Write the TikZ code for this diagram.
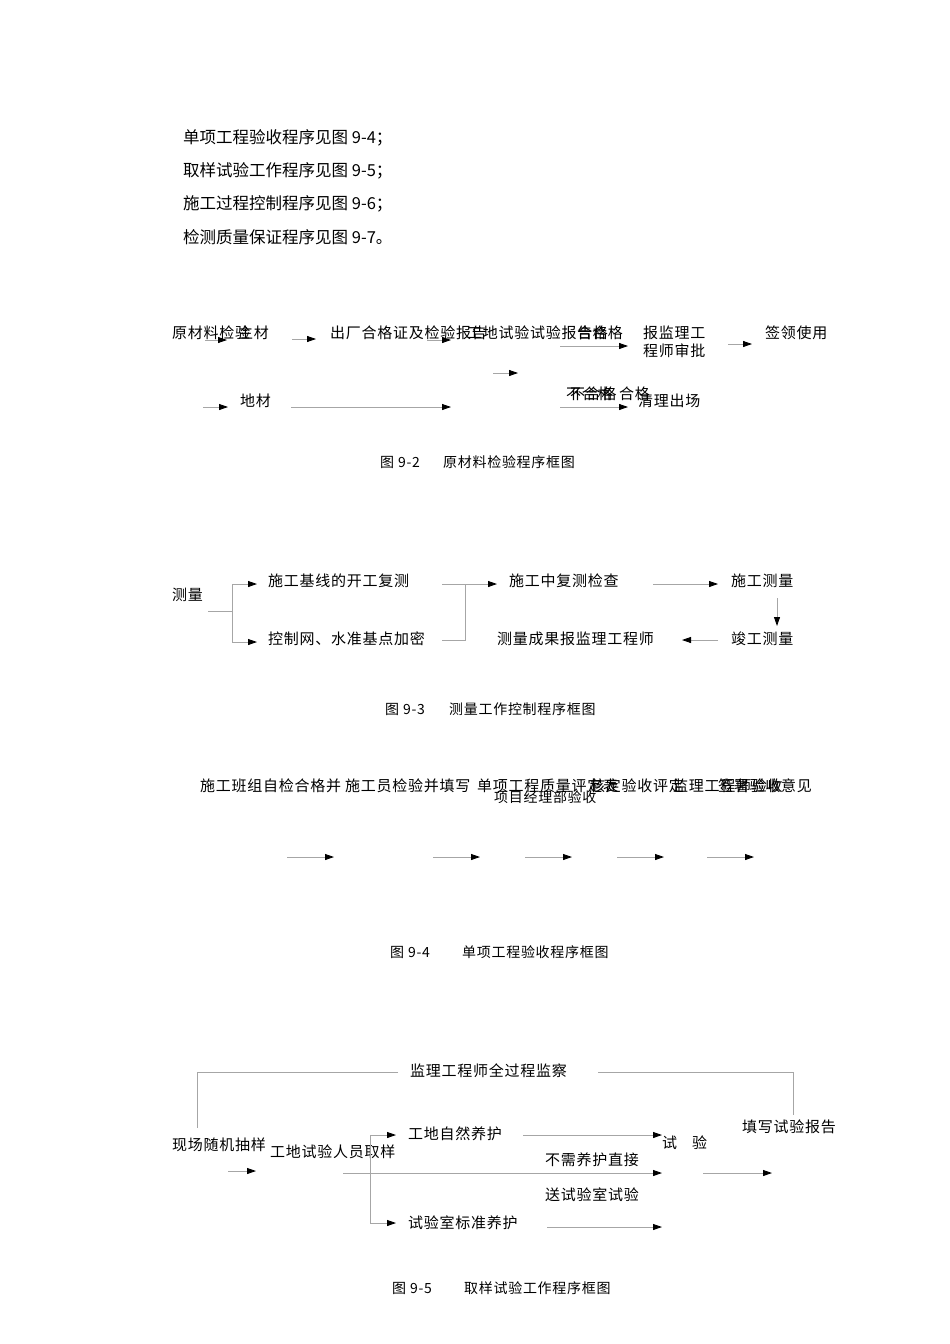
\documentclass[tikz,border=0pt]{standalone}
\usepackage{fontspec}
\newfontfamily\cjk[LetterSpace=5]{Noto Sans CJK SC}
\newfontfamily\cjkbody{Noto Sans CJK SC}
\usetikzlibrary{arrows.meta}

\begin{document}
\begin{tikzpicture}[x=1pt,y=-1pt,
    txt/.style={anchor=west, inner sep=0pt, font=\cjk\fontsize{15}{15}\selectfont},
    sub/.style={anchor=west, inner sep=0pt, font=\cjk\fontsize{14}{14}\selectfont},
    figcap/.style={anchor=west, inner sep=0pt, font=\cjk\fontsize{14}{14}\selectfont},
    body/.style={anchor=west, inner sep=0pt, font=\cjkbody\fontsize{16.5}{16.5}\selectfont},
    line/.style={draw=black!35, line width=0.8pt},
    arr/.style={line, -{Triangle[length=9pt, width=6pt, black]}}]
    \useasboundingbox[fill=white] (0,0) rectangle (950,1344);

    % Opening lines
    \node[body] (l94) at (183,138) {单项工程验收程序见图 9-4；};
    \node[body] (l95) at (183,171) {取样试验工作程序见图 9-5；};
    \node[body] (l96) at (183,204) {施工过程控制程序见图 9-6；};
    \node[body] (l97) at (183,237) {检测质量保证程序见图 9-7。};

    % Figure 9-2
    \node[txt] (yclj) at (172,333) {原材料检验};
    \node[txt] (zhuc) at (238,333) {主材};
    \node[txt] (ccz) at (330,333) {出厂合格证及检验报告};
    \node[txt] (gdsy) at (467,333) {工地试验};
    \node[txt] (sybg) at (530,333) {试验报告};
    \node[txt] (hga) at (577,333) {合格};
    \node[txt] (hgb) at (592,333) {合格};
    \node[txt] (bjla) at (643,333) {报监理工};
    \node[txt] (bjlb) at (643,351) {程师审批};
    \node[txt] (qlsy) at (765,333) {签领使用};
    \node[txt] (dic) at (240,401) {地材};
    \node[txt] (bhga) at (566,394) {不合格};
    \node[txt] (bhgb) at (570,394) {不合格};
    \node[txt] (hgc) at (619,394) {合格};
    \node[txt] (qlcc) at (638,401) {清理出场};
    \draw[arr] (205,340) -- (227,340);
    \draw[arr] (292,339) -- (316,339);
    \draw[arr] (427,340) -- (451,340);
    \draw[arr] (560,346) -- (628,346);
    \draw[arr] (728,344) -- (752,344);
    \draw[arr] (493,373) -- (518,373);
    \draw[arr] (203,407) -- (228,407);
    \draw[arr] (291,407) -- (451,407);
    \draw[arr] (560,407) -- (628,407);
    \node[figcap] (c92a) at (380,462) {图 9-2};
    \node[figcap] (c92b) at (443,462) {原材料检验程序框图};

    % Figure 9-3
    \node[txt] (cl) at (172,595) {测量};
    \node[txt] (jxfc) at (268,581) {施工基线的开工复测};
    \node[txt] (kzw) at (268,639) {控制网、水准基点加密};
    \node[txt] (zfc) at (509,581) {施工中复测检查};
    \node[txt] (sgcl) at (731,581) {施工测量};
    \node[txt] (jgcl) at (731,639) {竣工测量};
    \node[txt] (cgbj) at (497,639) {测量成果报监理工程师};
    \draw[line] (208,611) -- (232,611);
    \draw[line] (232,584) -- (232,642);
    \draw[arr] (232,584) -- (257,584);
    \draw[arr] (232,642) -- (257,642);
    \draw[line] (442,584) -- (465,584);
    \draw[line] (442,640) -- (465,640) -- (465,584);
    \draw[arr] (465,584) -- (497,584);
    \draw[arr] (653,584) -- (718,584);
    \draw[arr] (777,598) -- (777,626);
    \draw[arr] (718,640) -- (682,640);
    \node[figcap] (c93a) at (385,709) {图 9-3};
    \node[figcap] (c93b) at (449,709) {测量工作控制程序框图};

    % Figure 9-4
    \node[txt] (bzzj) at (200,786) {施工班组自检合格并};
    \node[txt] (sgyj) at (345,786) {施工员检验并填写};
    \node[txt] (pdb) at (477,786) {单项工程质量评定表};
    \node[sub] (xmjl) at (494,797) {项目经理部验收};
    \node[txt] (hdys) at (590,786) {核定验收评定};
    \node[txt] (jlys) at (673,786) {监理工程师验收};
    \node[txt] (qsyj) at (718,786) {签署验收意见};
    \draw[arr] (287,857) -- (334,857);
    \draw[arr] (433,857) -- (480,857);
    \draw[arr] (525,857) -- (572,857);
    \draw[arr] (617,857) -- (664,857);
    \draw[arr] (707,857) -- (754,857);
    \node[figcap] (c94a) at (390,952) {图 9-4};
    \node[figcap] (c94b) at (462,952) {单项工程验收程序框图};

    % Figure 9-5
    \node[txt] (jlgc) at (410,1071) {监理工程师全过程监察};
    \node[txt] (xccy) at (172,1145) {现场随机抽样};
    \node[txt] (rycy) at (270,1152) {工地试验人员取样};
    \node[txt] (zryh) at (408,1134) {工地自然养护};
    \node[txt] (bzyh) at (408,1223) {试验室标准养护};
    \node[txt] (bxyh) at (545,1160) {不需养护直接};
    \node[txt] (sysy) at (545,1195) {送试验室试验};
    \node[txt] (sy) at (662,1143) {试\hspace{15pt}验};
    \node[txt] (txbg) at (742,1127) {填写试验报告};
    \draw[line] (398,1072) -- (197,1072) -- (197,1128);
    \draw[line] (598,1072) -- (793,1072) -- (793,1115);
    \draw[arr] (228,1171) -- (256,1171);
    \draw[line] (370,1135) -- (370,1223);
    \draw[arr] (370,1135) -- (396,1135);
    \draw[arr] (370,1223) -- (396,1223);
    \draw[arr] (343,1173) -- (662,1173);
    \draw[arr] (523,1135) -- (662,1135);
    \draw[arr] (547,1227) -- (662,1227);
    \draw[arr] (703,1173) -- (772,1173);
    \node[figcap] (c95a) at (392,1288) {图 9-5};
    \node[figcap] (c95b) at (464,1288) {取样试验工作程序框图};
\end{tikzpicture}
\end{document}
